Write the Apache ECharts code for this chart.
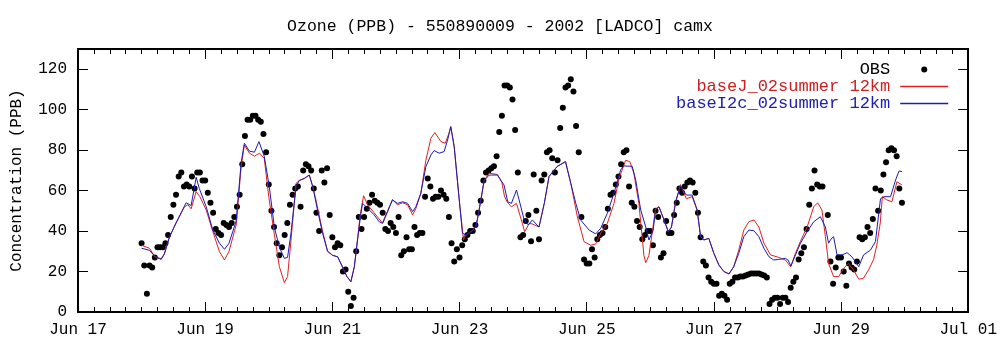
<!DOCTYPE html>
<html>
<head>
<meta charset="utf-8">
<script src="https://cdn.jsdelivr.net/npm/echarts@6/dist/echarts.min.js"></script>
<style>
html,body{margin:0;padding:0;background:#fff;}
#chart{width:1000px;height:347px;}
</style>
</head>
<body>
<div id="chart"></div>
<script>
// X axis: hours since Jun 17 00:00 (2002)
const tickLabels = ["Jun 17","Jun 19","Jun 21","Jun 23","Jun 25","Jun 27","Jun 29","Jul 01"];
const seriesNames = ["OBS","baseJ_02summer 12km","baseI2c_02summer 12km"];

// Observations: hourly values starting at hour 24 (Jun 18 00:00)
const obsStartHour = 24;
const obsValues = [
34,23,9,23,22,27,32,32,32,34,
38,47,53,58,67,69,62,63,62,67,
61,69,69,65,65,59,54,49,41,39,
38,44,43,42,44,47,52,58,73,87,
95,95,97,97,95,94,88,79,63,50,
42,34,28,32,38,44,53,58,61,62,
52,70,73,72,70,61,49,40,70,64,
71,48,37,32,34,33,20,21,10,3,
7,30,47,41,47,51,54,58,55,54,
53,49,41,40,44,42,39,47,28,30,
37,31,31,42,38,39,39,57,66,62,
56,57,57,60,58,56,47,34,25,31,
27,33,36,38,40,40,43,49,55,65,
69,70,71,72,77,89,97,112,112,111,
105,90,69,37,38,45,48,35,68,50,
36,65,68,79,80,76,69,75,91,101,
111,112,115,109,92,79,47,26,24,24,
31,27,36,38,39,42,51,58,59,63,
67,73,79,80,62,54,52,45,42,36,
38,40,40,33,50,47,27,29,45,39,
39,48,54,61,59,62,64,65,64,59,
49,37,25,23,17,15,14,14,8,9,
8,6,14,15,17,17,17.5,17.5,18,18.5,
19,19,19,19,18.5,18,17,4,6,7,
7,4,7,7,5,12,15,17,26,29,
32,41,53,61,70,63,62,62,null,48,
25,14,22,27,27,20,13,24,22,21,
25,37,36,37,42,39,46,61,50,60,
68,74,80,81,80,77,61,54
];

// Model baseJ_02summer 12km: [hour, ppb]
const baseJ = [
[24,33],[27,31.5],[29,27.3],[31.4,26],[32.6,28.7],[34.5,37],[37,44],[40.2,52],[41.5,53],[42.7,51],
[44.6,59.5],[46,57],[48.4,50.4],[50.9,39.7],[53.4,29.8],[55.3,25.7],[57,30],[59.7,43],[61.6,72],[62.8,82.6],
[64.7,78.5],[66.6,77],[68.5,78.5],[70.3,76],[72,57],[74.1,38.5],[76,22.4],[77.9,14.5],[79.1,17.5],[80.4,35.6],
[82.3,63.6],[83.5,65],[85.4,66],[87.3,67.7],[88.6,62],[89.8,55.4],[92.3,40],[94.2,30],[96.1,28],[98,27.3],
[99.5,23.2],[101.5,17.5],[103,15],[104.3,22.4],[105.5,35.6],[106.5,48],[107.8,57.5],[109.3,53],[111.8,49],[114.9,44],
[118.7,55.6],[120.6,53],[122.5,54],[124.4,53],[126.3,48],[127.5,51],[129.4,58.7],[131.3,75],[133.2,85.9],[134.7,88.7],
[137,84.2],[138.6,83.4],[140,88.3],[140.7,91.6],[142,81.7],[143.9,55.4],[145.5,35.6],[146.4,38],[148.3,39.7],[150.2,42],
[151.4,50.4],[153.3,65],[155.2,68.6],[158.3,68],[160,64],[161,57],[162.2,54],[163.6,52],[165.5,53.7],[167,47],
[168.6,39.7],[170.3,43.8],[171.5,43.5],[174,42],[176,53.7],[177.8,67],[180.9,72],[184,74.3],[186,63.6],[188.5,47],
[191,34.8],[193.5,33],[195.4,33.6],[197.3,39],[199.8,43.8],[202.3,53.7],[204.2,66],[206.7,75],[208.3,74.3],[209.8,68.6],
[211.7,53.7],[213.6,28],[214.3,24.4],[215.5,28],[216.8,40],[218,51],[219.3,52],[221.2,45.5],[222.8,39.7],[224,42],
[225.6,54.5],[227.4,63],[229.6,56],[231.8,57],[233.7,50.4],[235,37.2],[236.2,35.6],[238.1,36.4],[240,29],[241.9,23.2],
[243.8,20],[245.7,18.8],[247.5,22.4],[249.4,30.6],[251.3,40.5],[253.2,44.6],[255.1,45.5],[257,42],[258.9,34],[261.4,28.2],
[264.5,27],[267,25.7],[269,22.4],[270.8,29],[272.7,35],[275.2,42],[277.7,52],[279.2,54],[280.8,50.4],[282.1,37.2],
[283.3,24],[285.2,17.5],[287.1,17.5],[289,21.6],[290.8,24],[292.7,20.8],[294.7,16.2],[296.5,16.7],[298.4,20.8],[300.3,26],
[301.5,33],[302.8,44],[303.6,57],[305.3,55.4],[307.2,54.5],[309.1,64.4],[311,62.8]
];

// Model baseI2c_02summer 12km: [hour, ppb]
const baseI2c = [
[24,31.5],[27,30.5],[29,27.5],[31.4,26.2],[32.6,28.7],[34.5,37],[37,44],[40.8,54],[42.7,52.6],[44.6,66.6],
[45.8,61],[48.4,52],[50.9,40.5],[53.4,34],[55.3,31],[57,34],[59.7,45],[61.6,74],[62.8,83.4],[64.7,79.5],
[66.6,79],[68.3,84.2],[70.3,77],[72.2,62],[74.1,42],[76,32],[77.9,26.5],[79.1,27],[80.4,39],[82.3,62],
[83.5,65],[85.4,66],[87.3,67.7],[88.6,62],[90.4,50.4],[92.3,39],[94.2,30],[96.1,28],[98,27.3],[99.5,23.2],
[101.5,17.5],[103,15],[104.3,22.4],[105.5,35.6],[106.5,46],[107.4,53.7],[109.3,51.3],[111.8,48],[113.7,44.6],[115,43.8],
[118.7,55.4],[120.6,53.7],[122.5,54.5],[124.4,53.7],[126.3,49.6],[127.5,52],[129.4,58.7],[131.3,71.8],[133.2,77.6],[134.4,79.8],
[136.3,78.5],[138.2,79.3],[139.5,85],[140.7,91.6],[142,81.7],[143.9,55.4],[145.1,39],[146.4,38],[148.3,39.7],[150.2,42],
[151.4,50.4],[153.3,65],[155.2,67.7],[158.3,67.7],[160.8,62.8],[162.2,54.5],[163.6,53.7],[165.5,60.3],[166.5,55.4],[168.4,45.5],
[170,43],[171.5,45.5],[174,42],[176,53.7],[177.8,67],[180.9,72],[184,74.3],[186,63.6],[187.9,53.7],[189.7,45.5],
[192.9,40.5],[195.4,38.6],[197.3,41.4],[199.8,48.8],[202.3,58.7],[204.8,70.2],[206,72.2],[209.2,72],[210.5,65.3],[212.4,50.4],
[214.3,42],[215.5,35.6],[217.1,40.5],[218,50.4],[219.3,52],[221.2,45.5],[222.8,39.7],[224,42],[225.6,54.5],[227.4,62.3],
[229.6,57.8],[231.8,57.8],[233.7,50.4],[235,37.2],[236.2,35.6],[238.1,36.4],[240,29],[241.9,23.2],[243.8,20],[245.7,18.8],
[247.5,22.4],[249.4,29],[251.3,37.2],[253.2,40.5],[255.1,40.2],[257,37.2],[258.9,31.5],[260.8,27.3],[262.6,25.7],[264.5,26],
[267,26.5],[268,25.7],[269.1,22.7],[270.8,28.2],[272.7,34],[275.2,39.7],[277.7,44.6],[280.2,47.1],[282.1,42],[283.3,34],
[284.2,36],[285.2,37.2],[286.5,28.2],[288.4,28.2],[290.3,29.3],[292.1,27.3],[294.7,22.4],[296.5,28.2],[299.1,30.6],[301,34.8],
[302.9,56],[304.2,57],[306.7,57],[308.6,65.3],[309.9,69.7],[311,69.4]
];

const obsPoints = [];
obsValues.forEach(function(v, i){ if (v !== null) obsPoints.push([obsStartHour + i, v]); });

const FONT = '"Liberation Mono", "DejaVu Sans Mono", monospace';
const RED = '#e02020';
const BLUE = '#1c1cb8';

const chart = echarts.init(document.getElementById('chart'), null, {renderer: 'canvas'});

const axisCommon = {
  min: 0, max: 336, interval: 48, type: 'value',
  axisLine: {show: true, onZero: false, lineStyle: {color: '#000', width: 2}},
  axisTick: {show: true, inside: true, length: 10, lineStyle: {color: '#000', width: 1}},
  minorTick: {show: true, splitNumber: 8, length: 5, lineStyle: {color: '#000', width: 1}},
  splitLine: {show: false}
};

chart.setOption({
  animation: false,
  backgroundColor: '#fff',
  title: {
    text: 'Ozone (PPB) - 550890009 - 2002 [LADCO] camx',
    left: 'center', top: 13,
    textStyle: {fontFamily: FONT, fontSize: 16.5, fontWeight: 'normal', color: '#000'}
  },
  grid: {left: 78, right: 29, top: 49, bottom: 35, containLabel: false},
  legend: {
    orient: 'vertical', right: 51, top: 61, align: 'right',
    itemWidth: 48, itemHeight: 6, itemGap: 0, padding: 0,
    textStyle: {fontFamily: FONT, fontSize: 17, color: '#000', padding: [0, 5, 0, 0]},
    data: [
      {name: seriesNames[0], icon: 'circle', itemStyle: {color: '#000', opacity: 1}, textStyle: {color: '#000'}},
      {name: seriesNames[1], itemStyle: {opacity: 0}, lineStyle: {color: RED, width: 1.5, opacity: 1}, textStyle: {color: '#cc2020'}},
      {name: seriesNames[2], itemStyle: {opacity: 0}, lineStyle: {color: BLUE, width: 1.5, opacity: 1}, textStyle: {color: '#2020b0'}}
    ]
  },
  xAxis: [
    Object.assign({}, axisCommon, {
      position: 'bottom',
      axisLabel: {
        show: true, margin: 10, color: '#000', fontFamily: FONT, fontSize: 16,
        formatter: function(v){ return tickLabels[Math.round(v / 48)] || ''; }
      }
    }),
    Object.assign({}, axisCommon, {position: 'top', axisLabel: {show: false}})
  ],
  yAxis: [
    {
      type: 'value', min: 0, max: 130, interval: 20, position: 'left',
      name: 'Concentration (PPB)', nameLocation: 'middle', nameGap: 53, nameRotate: 90,
      nameTextStyle: {fontFamily: FONT, fontSize: 16, color: '#000'},
      axisLine: {show: true, onZero: false, lineStyle: {color: '#000', width: 2}},
      axisTick: {show: true, inside: true, length: 10, lineStyle: {color: '#000', width: 1}},
      axisLabel: {
        show: true, margin: 11, color: '#000', fontFamily: FONT, fontSize: 16,
        showMaxLabel: false,
        formatter: function(v){ return (v % 20 === 0) ? String(v) : ''; }
      },
      splitLine: {show: false}
    },
    {
      type: 'value', min: 0, max: 130, interval: 20, position: 'right',
      axisLine: {show: true, onZero: false, lineStyle: {color: '#000', width: 2}},
      axisTick: {show: true, inside: true, length: 10, lineStyle: {color: '#000', width: 1}},
      axisLabel: {show: false},
      splitLine: {show: false}
    }
  ],
  series: [
    {
      name: seriesNames[0], type: 'scatter', data: obsPoints,
      symbol: 'circle', symbolSize: 6,
      itemStyle: {color: '#000', opacity: 1}, z: 2
    },
    {
      name: seriesNames[1], type: 'line', data: baseJ,
      symbol: 'none', showSymbol: false,
      lineStyle: {color: RED, width: 1}, itemStyle: {color: RED}, z: 3
    },
    {
      name: seriesNames[2], type: 'line', data: baseI2c,
      symbol: 'none', showSymbol: false,
      lineStyle: {color: BLUE, width: 1}, itemStyle: {color: BLUE}, z: 4
    }
  ]
});
</script>
</body>
</html>
